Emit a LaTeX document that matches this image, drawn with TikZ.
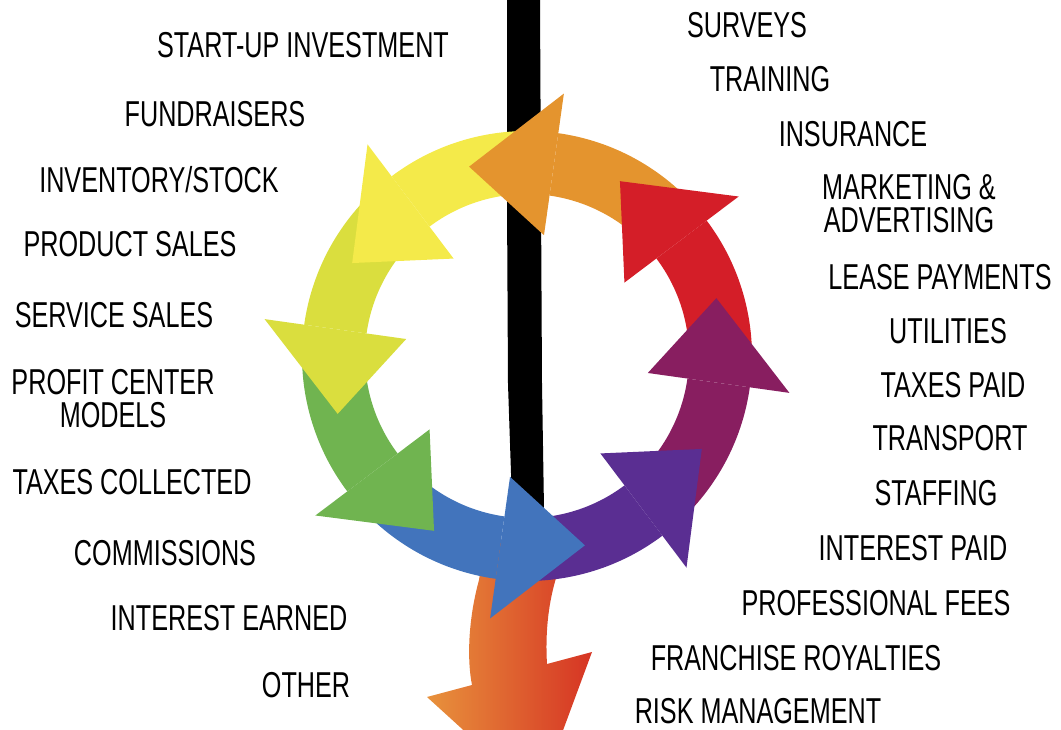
\documentclass[tikz,border=0pt]{standalone}
\usepackage{fontspec}
\setmainfont{Liberation Sans}[FakeStretch=0.70]

\newlength{\du}
\setlength{\du}{1pt}

\definecolor{ringred}{RGB}{212,30,40}
\definecolor{ringorange}{RGB}{228,148,46}
\definecolor{ringyellow}{RGB}{244,234,74}
\definecolor{ringlime}{RGB}{218,222,62}
\definecolor{ringgreen}{RGB}{112,180,80}
\definecolor{ringblue}{RGB}{66,116,188}
\definecolor{ringviolet}{RGB}{90,46,146}
\definecolor{ringplum}{RGB}{136,30,96}
\definecolor{outorange}{RGB}{232,146,60}
\definecolor{outred}{RGB}{214,52,36}

\tikzset{
  lbl/.style={inner sep=0pt, anchor=base, font=\fontsize{36}{33}\selectfont},
  lbltwo/.style={inner sep=0pt, anchor=south, align=center, font=\fontsize{36}{33}\selectfont},
}

\begin{document}
\begin{tikzpicture}
\pgftransformxscale{1.000000}
\pgftransformyscale{-1.000000}
\useasboundingbox (0\du,0\du) rectangle (1061\du,730\du);
\clip (0\du,0\du) rectangle (1061\du,730\du);
% divider
\definecolor{dialinecolor}{rgb}{0.000000, 0.000000, 0.000000}
\pgfsetfillcolor{dialinecolor}
\fill (507\du,0\du)--(540\du,0\du)--(541\du,200\du)--(542\du,384\du)--(544\du,509\du)--(545\du,545\du)--(513\du,545\du)--(511\du,473\du)--(508\du,384\du)--(507\du,200\du)--cycle;
% outgoing arrow
\shade[left color=outorange, right color=outred] (485\du,540\du)--(479\du,580\du) .. controls (468\du,620\du) and (467\du,660\du) .. (472\du,685\du)--(427\du,697\du)--(538\du,798\du)--(592\du,652\du)--(547\du,664\du) .. controls (545\du,630\du) and (549\du,600\du) .. (557\du,575\du)--(561\du,540\du)--cycle;
% ring
\begin{scope}[shift={(527\du,356\du)}]
\foreach \col/\tip in {ringred/62, ringorange/107, ringyellow/152, ringlime/197, ringgreen/242, ringblue/287, ringviolet/332, ringplum/377}{
  \pgfmathsetmacro{\ta}{67-\tip}
  \pgfmathsetmacro{\ba}{25-\tip}
  \fill[\col] (\ta:162\du) arc[start angle=\ta, end angle=\ba, radius=162\du]--(\ba:225\du) arc[start angle=\ba, end angle=\ta, radius=225\du]--cycle;
}
\foreach \col/\tip in {ringred/62, ringorange/107, ringyellow/152, ringlime/197, ringgreen/242, ringblue/287, ringviolet/332, ringplum/377}{
  \pgfmathsetmacro{\ba}{25-\tip}
  \fill[\col] (\ba:122\du)--(-\tip:198\du)--(\ba:265\du)--cycle;
}
\end{scope}
% income side
\node[lbl] (startup) at (303\du,58\du){START-UP INVESTMENT};
\node[lbl] (fundraisers) at (215\du,127\du){FUNDRAISERS};
\node[lbl] (inventory) at (159\du,193\du){INVENTORY/STOCK};
\node[lbl] (productsales) at (130\du,257\du){PRODUCT SALES};
\node[lbl] (servicesales) at (114\du,327\du){SERVICE SALES};
\node[lbltwo] (profitcenter) at (113\du,428\du){PROFIT CENTER\\MODELS};
\node[lbl] (taxescoll) at (132\du,494\du){TAXES COLLECTED};
\node[lbl] (commissions) at (165\du,565\du){COMMISSIONS};
\node[lbl] (interestearned) at (229\du,630\du){INTEREST EARNED};
\node[lbl] (other) at (306\du,697\du){OTHER};
% expense side
\node[lbl] (surveys) at (747\du,38\du){SURVEYS};
\node[lbl] (training) at (770\du,92\du){TRAINING};
\node[lbl] (insurance) at (853\du,147\du){INSURANCE};
\node[lbltwo] (marketing) at (909\du,233\du){MARKETING \&\\ADVERTISING};
\node[lbl] (lease) at (940\du,290\du){LEASE PAYMENTS};
\node[lbl] (utilities) at (948\du,343\du){UTILITIES};
\node[lbl] (taxespaid) at (953\du,397\du){TAXES PAID};
\node[lbl] (transport) at (950\du,450\du){TRANSPORT};
\node[lbl] (staffing) at (936\du,505\du){STAFFING};
\node[lbl] (interestpaid) at (913\du,560\du){INTEREST PAID};
\node[lbl] (profees) at (876\du,615\du){PROFESSIONAL FEES};
\node[lbl] (franchise) at (796\du,670\du){FRANCHISE ROYALTIES};
\node[lbl] (risk) at (758\du,723\du){RISK MANAGEMENT};
\end{tikzpicture}
\end{document}
